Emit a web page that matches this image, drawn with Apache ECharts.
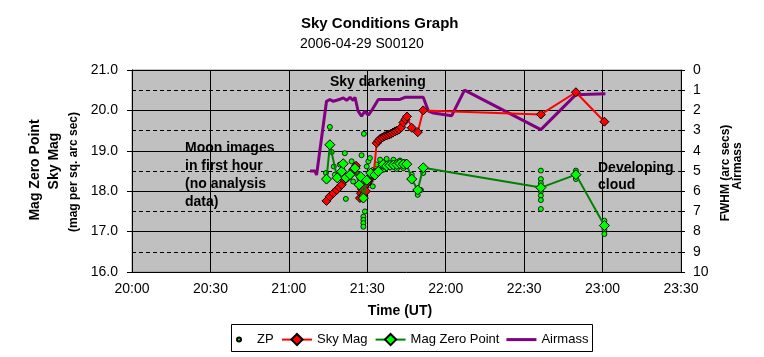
<!DOCTYPE html>
<html>
<head>
<meta charset="utf-8">
<script src="https://cdn.jsdelivr.net/npm/echarts@6/dist/echarts.min.js"></script>
<style>
html,body{margin:0;padding:0;background:#fff;}
#chart{width:764px;height:357px;}
</style>
</head>
<body>
<div id="chart"></div>
<script>
// ---- Data (time as "HH:MM.m") ----
const xTickLabels = ['20:00','20:30','21:00','21:30','22:00','22:30','23:00','23:30'];
const leftTicks = [16, 17, 18, 19, 20, 21];
const rightTicks = [0,1,2,3,4,5,6,7,8,9,10];

const airmassTimes = ['21:08.1','21:10.0','21:10.6','21:14.4','21:15.7','21:17.0','21:18.3','21:19.5','21:20.8','21:22.1','21:23.4','21:24.6','21:25.3','21:26.5','21:27.8','21:29.1','21:30.4','21:31.7','21:34.2','21:38.0','21:42.5','21:44.4','21:51.4','21:53.4','21:55.3','22:02.3','22:07.2','22:36.4','22:49.8','23:01.1'];
const airmassValues = [5.0,5.0,5.2,1.55,1.46,1.55,1.5,1.45,1.38,1.5,1.35,1.5,1.35,2.04,2.29,2.04,2.24,2.0,1.46,1.46,1.46,1.35,1.35,2.04,2.13,2.26,1.0,2.95,1.22,1.17];

const skyMagTimes = ['21:14.4','21:15.7','21:17.0','21:18.3','21:19.3','21:20.2','21:21.4','21:22.0','21:22.7','21:24.0','21:24.6','21:25.7','21:27.2','21:27.6','21:28.0','21:28.5','21:29.0','21:29.5','21:30.0','21:30.6','21:31.2','21:31.8','21:32.5','21:33.6','21:34.3','21:35.0','21:35.8','21:36.6','21:37.4','21:38.2','21:39.0','21:39.8','21:40.6','21:41.4','21:42.2','21:43.0','21:43.8','21:44.6','21:45.2','21:47.0','21:49.3','21:51.4','22:36.4','22:49.8','23:00.7'];
const skyMagValues = [17.76,17.87,17.95,18.03,18.10,18.16,18.28,18.32,18.36,18.45,18.53,18.63,17.83,17.95,18.05,17.90,18.10,18.00,18.20,18.25,18.32,18.40,18.45,19.19,19.25,19.30,19.33,19.36,19.38,19.40,19.42,19.45,19.48,19.50,19.53,19.58,19.70,19.78,19.85,19.57,19.46,20.00,19.90,20.45,19.72];

const mzpTimes = ['21:14.4','21:15.7','21:18.5','21:20.2','21:20.8','21:21.8','21:23.4','21:25.3','21:26.9','21:27.5','21:28.5','21:29.8','21:31.3','21:32.9','21:34.2','21:36.1','21:37.4','21:38.7','21:40.0','21:41.3','21:42.5','21:43.8','21:45.1','21:47.0','21:49.3','21:51.4','22:36.4','22:49.8','23:00.7'];
const mzpValues = [18.30,19.15,18.33,18.49,18.68,18.33,18.41,18.57,18.16,18.36,17.83,18.27,18.45,18.40,18.49,18.66,18.62,18.64,18.65,18.66,18.68,18.67,18.67,18.30,18.03,18.58,18.09,18.41,17.15];

const zpTimes = ['21:15.7','21:28.7','21:16.4','21:21.4','21:27.8','21:14.2','21:21.8','21:29.1','21:28.5','21:28.5','21:28.5','21:28.5','21:17.6','21:17.2','21:19.5','21:24.0','21:24.6','21:25.9','21:29.8','21:30.4','21:31.0','21:32.3','21:32.1','21:33.6','21:34.9','21:36.1','21:37.4','21:38.7','21:40.0','21:41.3','21:42.5','21:43.8','21:44.4','21:47.0','21:49.3','21:51.4','21:50.5','22:36.4','22:36.4','22:36.4','22:36.4','22:36.4','22:36.4','22:36.4','22:49.8','22:49.8','22:49.8','22:49.8','23:00.7','23:00.7','23:00.7','23:00.7'];
const zpValues = [19.59,19.42,18.97,18.94,18.89,18.45,17.81,17.50,17.37,17.29,17.21,17.12,18.41,18.61,18.66,18.74,18.24,18.45,18.61,18.74,18.82,18.53,18.12,18.66,18.78,18.53,18.80,18.60,18.78,18.55,18.76,18.57,18.72,18.41,17.91,18.45,18.03,18.51,18.30,18.20,17.99,17.89,17.78,17.56,18.51,18.45,18.36,18.30,17.27,17.19,17.06,16.94];

// ---- helpers ----
function toMin(s){ const p = s.split(':'); return (+p[0])*60 + parseFloat(p[1]); }
function pairs(ts, vs){ return ts.map((t,i)=>[toMin(t), vs[i]]); }
function fmtTime(v){ const h = Math.floor(v/60), m = Math.round(v - h*60); return h + ':' + String(m).padStart(2,'0'); }

const FONT = '"Liberation Sans", Arial, sans-serif';
const chart = echarts.init(document.getElementById('chart'), null, {renderer:'canvas'});

const xMin = toMin(xTickLabels[0]), xMax = toMin(xTickLabels[xTickLabels.length-1]);

const option = {
  animation: false,
  backgroundColor: '#ffffff',
  textStyle: {fontFamily: FONT},
  grid: {left: 132, right: 83, top: 70, bottom: 85, show: true, backgroundColor: '#c0c0c0', borderColor: '#909090', borderWidth: 1},
  xAxis: {
    type: 'value', min: xMin, max: xMax, interval: 30,
    axisLine: {show: true, lineStyle: {color: '#000', width: 1}},
    axisTick: {show: true, length: 5, lineStyle: {color: '#000'}},
    axisLabel: {color: '#000', fontSize: 14, fontFamily: FONT, margin: 10, formatter: v => fmtTime(v)},
    splitLine: {show: true, lineStyle: {color: '#000', width: 1}}
  },
  yAxis: [
    {
      type: 'value', min: leftTicks[0], max: leftTicks[leftTicks.length-1], interval: 1,
      axisLine: {show: true, lineStyle: {color: '#000', width: 1}},
      axisTick: {show: true, length: 5, lineStyle: {color: '#000'}},
      axisLabel: {color: '#000', fontSize: 14, fontFamily: FONT, margin: 14, formatter: v => v.toFixed(1)},
      splitLine: {show: true, showMaxLine: false, lineStyle: {color: '#000', width: 1}},
      minorTick: {show: false, splitNumber: 2},
      minorSplitLine: {show: true, lineStyle: {color: '#000', width: 1, type: [4, 3]}}
    },
    {
      type: 'value', min: rightTicks[0], max: rightTicks[rightTicks.length-1], interval: 1, inverse: true,
      position: 'right',
      axisLine: {show: true, lineStyle: {color: '#000', width: 1}},
      axisTick: {show: true, length: 4, lineStyle: {color: '#000'}},
      axisLabel: {color: '#000', fontSize: 14, fontFamily: FONT, margin: 12},
      splitLine: {show: false}
    }
  ],
  legend: [
    {
      data: ['ZP'], left: 236, top: 333, padding: 0, itemWidth: 26, itemHeight: 4,
      textStyle: {color: '#000', fontSize: 13, fontFamily: FONT}, selectedMode: false
    },
    {
      data: ['Sky Mag', 'Mag Zero Point', {name: 'Airmass', icon: 'path://M0,0L30,0L30,3L0,3Z'}], left: 281, top: 333, padding: 0,
      itemWidth: 30, itemHeight: 14, itemGap: 7,
      textStyle: {color: '#000', fontSize: 13, fontFamily: FONT}, selectedMode: false
    }
  ],
  graphic: [
    {type: 'rect', z: 0, shape: {x: 231.5, y: 324.5, width: 361, height: 27}, style: {fill: '#fff', stroke: '#000', lineWidth: 1}},
    {type: 'text', x: 301, y: 16, style: {text: 'Sky Conditions Graph', font: 'bold 15px ' + FONT, fill: '#000', align: 'left', verticalAlign: 'top'}},
    {type: 'text', x: 300, y: 37, style: {text: '2006-04-29 S00120', font: '14px ' + FONT, fill: '#000', align: 'left', verticalAlign: 'top'}},
    {type: 'text', x: 400, y: 311, style: {text: 'Time (UT)', font: 'bold 14px ' + FONT, fill: '#000', align: 'center', verticalAlign: 'middle'}},
    {type: 'text', x: 35, y: 170, rotation: Math.PI/2, style: {text: 'Mag Zero Point', font: 'bold 14px ' + FONT, fill: '#000', align: 'center', verticalAlign: 'middle'}},
    {type: 'text', x: 54, y: 161, rotation: Math.PI/2, style: {text: 'Sky Mag', font: 'bold 14px ' + FONT, fill: '#000', align: 'center', verticalAlign: 'middle'}},
    {type: 'text', x: 74, y: 172, rotation: Math.PI/2, style: {text: '(mag per sq. arc sec)', font: 'bold 12px ' + FONT, fill: '#000', align: 'center', verticalAlign: 'middle'}},
    {type: 'text', x: 726, y: 173, rotation: Math.PI/2, style: {text: 'FWHM (arc secs)', font: 'bold 12px ' + FONT, fill: '#000', align: 'center', verticalAlign: 'middle'}},
    {type: 'text', x: 738, y: 166, rotation: Math.PI/2, style: {text: 'Airmass', font: 'bold 12px ' + FONT, fill: '#000', align: 'center', verticalAlign: 'middle'}},
    {type: 'text', x: 330, y: 75, z: 10, style: {text: 'Sky darkening', font: 'bold 14px ' + FONT, fill: '#000', align: 'left', verticalAlign: 'top'}},
    {type: 'text', x: 185, y: 139.5, z: 10, style: {text: 'Moon images\nin first hour\n(no analysis\ndata)', font: 'bold 14px ' + FONT, lineHeight: 17.8, fill: '#000', align: 'left', verticalAlign: 'top'}},
    {type: 'text', x: 598, y: 159, z: 10, style: {text: 'Developing\ncloud', font: 'bold 14px ' + FONT, lineHeight: 17.3, fill: '#000', align: 'left', verticalAlign: 'top'}}
  ],
  series: [
    {
      name: 'Airmass', type: 'line', yAxisIndex: 1, data: pairs(airmassTimes, airmassValues),
      symbol: 'none', showSymbol: false,
      lineStyle: {color: '#800080', width: 3}, itemStyle: {color: '#800080'}, z: 2
    },
    {
      name: 'ZP', type: 'scatter', yAxisIndex: 0, data: pairs(zpTimes, zpValues),
      symbol: 'circle', symbolSize: 5,
      itemStyle: {color: '#00ff00', borderColor: '#000', borderWidth: 0.8, opacity: 1}, z: 3
    },
    {
      name: 'Sky Mag', type: 'line', yAxisIndex: 0, data: pairs(skyMagTimes, skyMagValues),
      symbol: 'diamond', symbolSize: 9, showSymbol: true,
      lineStyle: {color: '#ff0000', width: 2},
      itemStyle: {color: '#ff0000', borderColor: '#000', borderWidth: 1}, z: 4
    },
    {
      name: 'Mag Zero Point', type: 'line', yAxisIndex: 0, data: pairs(mzpTimes, mzpValues),
      symbol: 'diamond', symbolSize: 10, showSymbol: true,
      lineStyle: {color: '#008000', width: 2},
      itemStyle: {color: '#00ff00', borderColor: '#000', borderWidth: 1}, z: 5
    }
  ]
};
chart.setOption(option);
</script>
</body>
</html>
